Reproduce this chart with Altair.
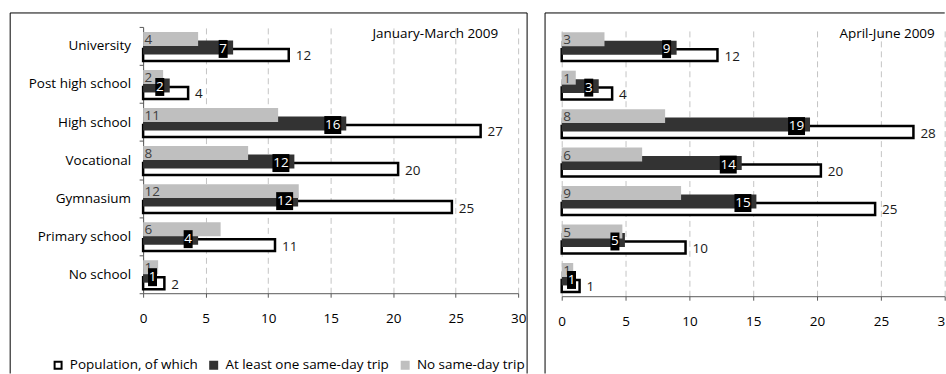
import altair as alt
import pandas as pd

# Share of the population by education level, split by same-day trips
categories = [
    "University",
    "Post high school",
    "High school",
    "Vocational",
    "Gymnasium",
    "Primary school",
    "No school",
]
series_names = [
    "Population, of which",
    "At least one same-day trip",
    "No same-day trip",
]

q1_population = [11.65, 3.6, 27.0, 20.4, 24.7, 10.55, 1.7]
q1_trip = [7.2, 2.13, 16.25, 12.1, 12.4, 4.4, 0.6]
q1_no_trip = [4.4, 1.6, 10.8, 8.4, 12.45, 6.2, 1.2]

q2_population = [12.2, 3.95, 27.55, 20.3, 24.55, 9.7, 1.4]
q2_trip = [9.0, 2.9, 19.45, 14.1, 15.25, 4.95, 0.6]
q2_no_trip = [3.35, 1.1, 8.1, 6.3, 9.35, 4.75, 0.9]

x_ticks = [0, 5, 10, 15, 20, 25, 30]

FONT = "Open Sans"
FS = 13.5


def long_frame(population, trip, no_trip):
    rows = []
    for i, cat in enumerate(categories):
        for name, vals in zip(series_names, (population, trip, no_trip)):
            rows.append({"category": cat, "series": name, "value": vals[i]})
    return pd.DataFrame(rows)


one_row = pd.DataFrame({"k": [0]})

fill_scale = alt.Scale(domain=series_names, range=["#ffffff", "#333333", "#bfbfbf"])
stroke_scale = alt.Scale(domain=series_names, range=["#000000", "#333333", "#bfbfbf"])


def frame_rule(x1, x2, y1, y2):
    return alt.Chart(one_row).mark_rule(color="#000000", strokeWidth=1).encode(
        x=alt.value(x1), x2=alt.value(x2), y=alt.value(y1), y2=alt.value(y2)
    )


def panel(df, title, width, height, show_y, legend, title_right, frame, edge_cut):
    axis_kw = dict(
        values=x_ticks,
        title=None,
        grid=True,
        gridDash=[6, 4],
        gridColor="#c4c4c4",
        tickSize=4,
        labelPadding=14,
        labelFlush=False,
        domainColor="#595959",
        tickColor="#595959",
    )
    if edge_cut:
        # the panel ends at the page edge, so only the first digit of 30 fits
        axis_kw["labelExpr"] = "datum.value == 30 ? '3' : datum.label"
        axis_kw["labelAlign"] = alt.condition("datum.value == 30", alt.value("right"), alt.value("center"))
    x = alt.X("value:Q", scale=alt.Scale(domain=[0, 30], nice=False), axis=alt.Axis(**axis_kw))
    if show_y:
        y_axis = alt.Axis(
            title=None,
            grid=False,
            tickBand="extent",
            tickSize=4,
            labelPadding=8.6,
            domainColor="#595959",
            tickColor="#595959",
        )
    else:
        y_axis = None
    y = alt.Y(
        "category:N",
        sort=categories,
        scale=alt.Scale(paddingInner=0, paddingOuter=0),
        axis=y_axis,
    )
    fill = alt.Fill("series:N", scale=fill_scale, legend=legend)
    stroke = alt.Stroke("series:N", scale=stroke_scale, legend=legend)

    base = alt.Chart(df).encode(y=y).transform_calculate(
        lbl="format(datum.value, '.0f')",
        zero="0",
        anchor="max(datum.value, 1.55)",
    )
    is_pop = alt.datum.series == series_names[0]
    is_trip = alt.datum.series == series_names[1]
    is_none = alt.datum.series == series_names[2]

    pop_bar = base.transform_filter(is_pop).mark_bar(
        size=12, yOffset=9, strokeWidth=2.5
    ).encode(x=x, fill=fill, stroke=stroke)
    trip_bar = base.transform_filter(is_trip).mark_bar(
        size=14, yOffset=1.5, strokeWidth=0
    ).encode(x=x, fill=fill, stroke=stroke)
    none_bar = base.transform_filter(is_none).mark_bar(
        size=14, yOffset=-7, strokeWidth=0
    ).encode(x=x, fill=fill, stroke=stroke)

    none_text = base.transform_filter(is_none).mark_text(
        align="left", baseline="middle", dx=1.5, dy=-6,
        font=FONT, fontSize=FS, color="#404040",
    ).encode(x="zero:Q", text="lbl:N")

    pop_text = base.transform_filter(is_pop).mark_text(
        align="left", baseline="middle", dx=7, dy=10.5,
        font=FONT, fontSize=FS, color="#1a1a1a",
    ).encode(x="value:Q", text="lbl:N")

    trip = base.transform_filter(is_trip)
    one_digit = alt.expr.length(alt.datum.lbl) == 1
    two_digit = alt.expr.length(alt.datum.lbl) > 1
    box1 = trip.transform_filter(one_digit).mark_tick(
        thickness=9, size=18, xOffset=-10, yOffset=3, color="#000000", opacity=1
    ).encode(x="anchor:Q")
    box2 = trip.transform_filter(two_digit).mark_tick(
        thickness=17, size=18, xOffset=-13.5, yOffset=3, color="#000000", opacity=1
    ).encode(x="anchor:Q")
    txt1 = trip.transform_filter(one_digit).mark_text(
        align="center", baseline="middle", dx=-10, dy=3,
        font=FONT, fontSize=FS, color="#ffffff",
    ).encode(x="anchor:Q", text="lbl:N")
    txt2 = trip.transform_filter(two_digit).mark_text(
        align="center", baseline="middle", dx=-13.5, dy=3,
        font=FONT, fontSize=FS, color="#ffffff",
    ).encode(x="anchor:Q", text="lbl:N")

    title_mark = alt.Chart(one_row).mark_text(
        align="right", baseline="middle", font=FONT, fontSize=FS, color="#000000"
    ).encode(x=alt.value(title_right), y=alt.value(7.5), text=alt.value(title))

    layers = [pop_bar, trip_bar, none_bar, none_text, pop_text,
              box1, box2, txt1, txt2, title_mark] + frame
    return alt.layer(*layers).properties(width=width, height=height)


legend = alt.Legend(
    orient="none",
    legendX=-92,
    legendY=332,
    direction="horizontal",
    title=None,
    symbolType="square",
    symbolSize=49,
    symbolStrokeWidth=2,
    labelFont=FONT,
    labelFontSize=FS,
    labelColor="#000000",
    labelLimit=400,
    labelOffset=5,
    columnPadding=8,
)

left = panel(
    long_frame(q1_population, q1_trip, q1_no_trip),
    "January-March 2009", 376, 267, True, legend, 356,
    [
        frame_rule(-133.3, 385, -14, -14),
        frame_rule(-133.3, -133.3, -14, 347.5),
        frame_rule(385, 385, -14, 347.5),
    ],
    False,
)
right = panel(
    long_frame(q2_population, q2_trip, q2_no_trip),
    "April-June 2009", 384, 270, False, None, 374,
    [
        frame_rule(-16.7, 384, -14, -14),
        frame_rule(-16.7, -16.7, -14, 347.5),
    ],
    True,
)

chart = (
    alt.hconcat(left, right, spacing=15.7)
    .resolve_scale(x="independent", y="independent", fill="independent", stroke="independent")
    .resolve_legend(fill="independent", stroke="independent")
    .properties(padding={"left": 9.5, "top": 11.5, "right": 0, "bottom": 0})
    .configure_view(stroke=None)
    .configure_axis(labelFont=FONT, labelFontSize=FS, labelColor="#000000")
)

chart.save("out.html", embed_options={"renderer": "svg", "actions": False})
